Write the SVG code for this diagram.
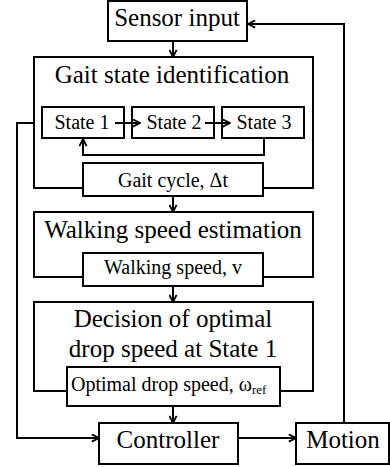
<svg xmlns="http://www.w3.org/2000/svg" width="390" height="467" viewBox="0 0 390 467">
<style>
.box{fill:#fff;stroke:#000;stroke-width:2}
.ln{fill:none;stroke:#000;stroke-width:2}
text{font-family:'Liberation Serif','Times New Roman','DejaVu Serif',serif;fill:#000}
.big{font-size:25px;text-anchor:middle}
.sm{font-size:20px;text-anchor:middle}
</style>
<defs>
<marker id="ah" viewBox="0 0 10 10" refX="9" refY="5" markerWidth="9" markerHeight="9" markerUnits="userSpaceOnUse" orient="auto">
<path d="M1,1 L9,5 L1,9" fill="none" stroke="#000" stroke-width="2"/>
</marker>
</defs>
<g id="sensor"><rect class="box" x="108" y="1" width="139" height="40"/><text class="big" x="177" y="26" font-family="Liberation Serif, serif">Sensor input</text></g>
<g id="gait"><rect class="box" x="34" y="57" width="279" height="131"/><text class="big" x="172" y="83" font-family="Liberation Serif, serif">Gait state identification</text></g>
<g id="state1"><rect class="box" x="42" y="107" width="82" height="31"/><text class="sm" x="82" y="129" font-family="Liberation Serif, serif">State 1</text></g>
<g id="state2"><rect class="box" x="132" y="107" width="82" height="31"/><text class="sm" x="174" y="129" font-family="Liberation Serif, serif">State 2</text></g>
<g id="state3"><rect class="box" x="222" y="107" width="82" height="31"/><text class="sm" x="264" y="129" font-family="Liberation Serif, serif">State 3</text></g>
<g id="gaitcycle"><rect class="box" x="83" y="163" width="180" height="33"/><text class="sm" x="173" y="187" font-family="Liberation Serif, serif">Gait cycle, Δt</text></g>
<g id="walking"><rect class="box" x="34" y="212" width="279" height="65"/><text class="big" x="173" y="238" font-family="Liberation Serif, serif">Walking speed estimation</text></g>
<g id="walkspeed"><rect class="box" x="83" y="253" width="180" height="33"/><text class="sm" x="173" y="274" font-family="Liberation Serif, serif">Walking speed, v</text></g>
<g id="decision"><rect class="box" x="34" y="302" width="279" height="89"/><text class="big" x="173" y="327" font-family="Liberation Serif, serif">Decision of optimal</text><text class="big" x="173" y="357" font-family="Liberation Serif, serif">drop speed at State 1</text></g>
<g id="optimal"><rect class="box" x="67" y="367" width="213" height="39"/><text x="71" y="391" style="font-size:20px" font-family="Liberation Serif, serif">Optimal drop speed, ω<tspan style="font-size:13px" dy="3">ref</tspan></text></g>
<g id="controller"><rect class="box" x="99" y="423" width="139" height="41"/><text class="big" x="168" y="448" font-family="Liberation Serif, serif">Controller</text></g>
<g id="motion"><rect class="box" x="296" y="423" width="93" height="41"/><text class="big" x="343" y="448" font-family="Liberation Serif, serif">Motion</text></g>
<g id="connectors">
<line class="ln" x1="173" y1="41" x2="173" y2="57" marker-end="url(#ah)"/>
<line class="ln" x1="115" y1="123" x2="140" y2="123" marker-end="url(#ah)"/>
<line class="ln" x1="205" y1="123" x2="230" y2="123" marker-end="url(#ah)"/>
<polyline class="ln" points="264,138 264,155 83,155 83,139" marker-end="url(#ah)"/>
<line class="ln" x1="173" y1="196" x2="173" y2="212" marker-end="url(#ah)"/>
<line class="ln" x1="173" y1="286" x2="173" y2="302" marker-end="url(#ah)"/>
<line class="ln" x1="173" y1="406" x2="173" y2="423" marker-end="url(#ah)"/>
<polyline class="ln" points="34,123 17,123 17,438 99,438" marker-end="url(#ah)"/>
<line class="ln" x1="238" y1="438" x2="296" y2="438" marker-end="url(#ah)"/>
<polyline class="ln" points="344,423 344,24 248,24" marker-end="url(#ah)"/>
</g>
</svg>
